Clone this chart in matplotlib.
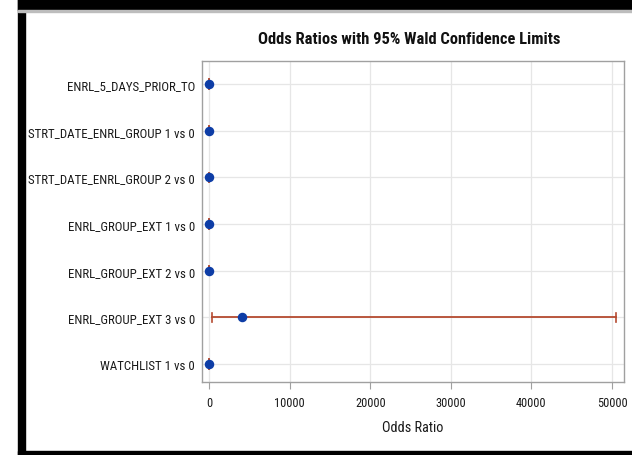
import matplotlib
matplotlib.use("Agg")
import matplotlib.pyplot as plt
from matplotlib.patches import Rectangle
from matplotlib import font_manager

categories = ["ENRL_5_DAYS_PRIOR_TO", "STRT_DATE_ENRL_GROUP 1 vs 0",
              "STRT_DATE_ENRL_GROUP 2 vs 0", "ENRL_GROUP_EXT 1 vs 0",
              "ENRL_GROUP_EXT 2 vs 0", "ENRL_GROUP_EXT 3 vs 0", "WATCHLIST 1 vs 0"]
estimates = [1.2, 0.9, 1.1, 1.3, 1.5, 4100, 0.8]
lower = [1.0, 0.7, 0.9, 1.0, 1.1, 370, 0.6]
upper = [1.4, 1.2, 1.3, 1.7, 2.0, 50500, 1.0]
xticks = [0, 10000, 20000, 30000, 40000, 50000]

# choose a narrow font if one is installed
fonts = font_manager.fontManager.ttflist
names = {f.name for f in fonts}
family, stretch = "DejaVu Sans", "normal"
for cand in ["Liberation Sans Narrow", "Roboto Condensed", "Open Sans Condensed",
             "DejaVu Sans Condensed"]:
    if cand in names:
        family = cand
        break
else:
    if any(f.name == "DejaVu Sans" and f.stretch in ("condensed", "semi-condensed")
           for f in fonts):
        stretch = "condensed"
plt.rcParams["font.family"] = [family, "DejaVu Sans"]
plt.rcParams["font.stretch"] = stretch

W, H = 632, 456
fig = plt.figure(figsize=(6.32, 4.56), dpi=100)
renderer = fig.canvas.get_renderer()


def fit_size(text, target_px, weight="normal", base=10.0):
    t = fig.text(0, 0, text, fontsize=base, fontweight=weight)
    w = t.get_window_extent(renderer).width
    t.remove()
    return base * target_px / w


ylab_size = fit_size("STRT_DATE_ENRL_GROUP 2 vs 0", 166)
tick_size = fit_size("10000", 30)
xlab_size = fit_size("Odds Ratio", 61)
title_size = fit_size("Odds Ratios with 95% Wald Confidence Limits", 304, weight="bold")

ax = fig.add_axes([202 / W, 1 - 383 / H, (624 - 202) / W, (383 - 62) / H])

ypos = list(range(len(categories)))
line_c = "#B54A30"
for y, lo, hi in zip(ypos, lower, upper):
    ax.plot([lo, hi], [y, y], color=line_c, lw=1.3, zorder=3)
    ax.plot([lo, lo], [y - 0.1, y + 0.1], color=line_c, lw=1.2, zorder=3)
    ax.plot([hi, hi], [y - 0.1, y + 0.1], color=line_c, lw=1.2, zorder=3)
ax.scatter(estimates, ypos, s=34, color="#0E3DA6", zorder=4, edgecolors="#0E3DA6")

ax.set_yticks(ypos)
ax.set_yticklabels(categories, fontsize=ylab_size, color="#1A1A1A")
ax.set_ylim(6.385, -0.49)
ax.set_xlim(-870, 51490)
ax.set_xticks(xticks)
ax.set_xticklabels([str(t) for t in xticks], fontsize=tick_size, color="#1A1A1A")
ax.set_xlabel("Odds Ratio", fontsize=xlab_size, color="#1A1A1A", va="center")
ax.xaxis.set_label_coords(0.5, (383 - 428) / (383 - 62))
fig.text(409 / W, 1 - 40 / H, "Odds Ratios with 95% Wald Confidence Limits",
         fontsize=title_size, fontweight="bold", ha="center", va="center",
         color="#111111")
ax.grid(True, color="#E6E6E6", lw=0.9, zorder=0)
ax.set_axisbelow(True)
for s in ax.spines.values():
    s.set_color("#A0A0A0")
    s.set_linewidth(1.0)
ax.tick_params(axis="x", length=5, color="#A0A0A0", pad=5)
ax.tick_params(axis="y", length=0, pad=5)

# screenshot frame
fig.patches.append(Rectangle((18 / W, 0), 7 / W, 1, transform=fig.transFigure,
                             color="black", zorder=10))
fig.patches.append(Rectangle((18 / W, 1 - 11 / H), 1, 11 / H, transform=fig.transFigure,
                             color="black", zorder=10))
fig.patches.append(Rectangle((18 / W, 1 - 13 / H), 1, 2 / H, transform=fig.transFigure,
                             color="#BDBDBD", zorder=10))
fig.patches.append(Rectangle((18 / W, 0), 1, 4.5 / H, transform=fig.transFigure,
                             color="black", zorder=10))

fig.savefig("out.png", dpi=100)
